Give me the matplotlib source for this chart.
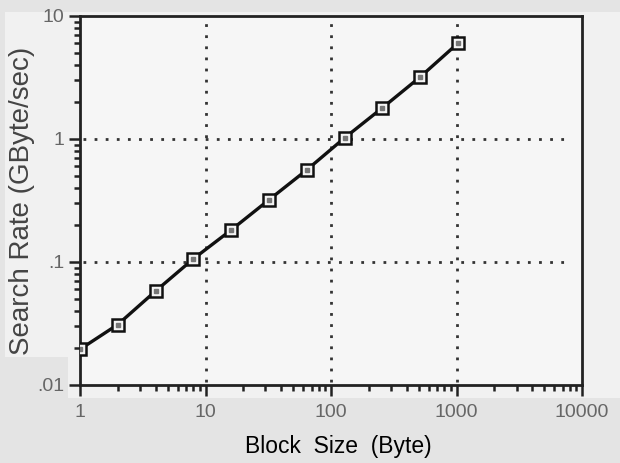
import numpy as np
import matplotlib.pyplot as plt
from matplotlib.patches import Rectangle

plt.rcParams['font.family'] = ['Liberation Sans', 'DejaVu Sans']

# block size (byte) and measured search rate (GByte/sec)
block_size = [1, 2, 4, 8, 16, 32, 64, 128, 256, 512, 1024]
search_rate = [0.0195, 0.031, 0.058, 0.106, 0.182, 0.32, 0.56, 1.02, 1.79, 3.19, 6.0]

x_ticks = [1, 10, 100, 1000, 10000]
x_labels = ['1', '10', '100', '1000', '10000']
y_ticks = [0.01, 0.1, 1, 10]
y_labels = ['.01', '.1', '1', '10']

fig = plt.figure(figsize=(6.2, 4.63), dpi=100, facecolor='#e4e4e4')
# lighter paper area behind the plot
fig.patches.append(Rectangle((0.008, 0.23), 0.992, 0.745, transform=fig.transFigure,
                             facecolor='#f1f1f1', edgecolor='none', zorder=-10))
fig.patches.append(Rectangle((0.11, 0.14), 0.89, 0.1, transform=fig.transFigure,
                             facecolor='#f1f1f1', edgecolor='none', zorder=-10))
ax = fig.add_axes([0.129, 0.1685, 0.81, 0.797])
ax.set_facecolor('#f6f6f6')

ax.plot(block_size, search_rate, color='#111111', lw=2.4, marker='s', ms=8.5,
        mfc='#f4f4f4', mec='#111111', mew=1.8, zorder=3)
ax.plot(block_size, search_rate, ls='none', marker='s', ms=2.5, color='#777777', zorder=4)

ax.set_xscale('log')
ax.set_yscale('log')
ax.set_xlim(1, 10000)
ax.set_ylim(0.01, 10)

ax.set_xticks(x_ticks)
ax.set_xticklabels(x_labels)
ax.set_yticks(y_ticks)
ax.set_yticklabels(y_labels)

for v in x_ticks[1:-1]:
    ax.plot([v, v], [0.0105, 9.3], ls=(0, (1, 3)), lw=2, color='#333333', zorder=1)
for v in y_ticks[1:-1]:
    ax.plot([1.05, 8000], [v, v], ls=(0, (1, 3)), lw=2, color='#333333', zorder=1)

for s in ax.spines.values():
    s.set_linewidth(2)
    s.set_color('#222222')
ax.tick_params(which='major', direction='out', length=8, width=1.8, color='#222222',
               labelsize=14, labelcolor='#666666')
ax.tick_params(axis='x', which='major', pad=6)
ax.tick_params(which='minor', direction='out', length=4, width=1.8, color='#222222')

ax.set_xlabel('Block  Size  (Byte)', fontsize=16.5)
ax.xaxis.set_label_coords(0.515, -0.135)
ax.set_ylabel('Search Rate (GByte/sec)', fontsize=20, color='#444444')
ax.yaxis.set_label_coords(-0.09, 0.5)

fig.savefig('out.png', dpi=100, facecolor=fig.get_facecolor())
